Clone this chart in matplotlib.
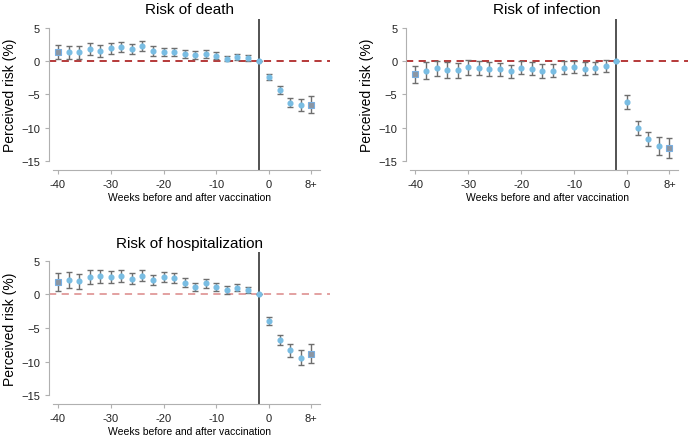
import numpy as np
import matplotlib
matplotlib.use("Agg")
import matplotlib.pyplot as plt

plt.rcParams['font.family'] = ['Liberation Sans', 'DejaVu Sans']

weeks = [-40, -38, -36, -34, -32, -30, -28, -26, -24, -22, -20, -18, -16, -14,
         -12, -10, -8, -6, -4, -2, 0, 2, 4, 6, 8]

death = [1.3, 1.3, 1.3, 1.8, 1.5, 1.9, 2.1, 1.8, 2.2, 1.5, 1.35, 1.35, 1.0, 0.85,
         1.05, 0.8, 0.35, 0.6, 0.45, 0.0, -2.35, -4.3, -6.2, -6.55, -6.55]
death_err = [1.05, 1.0, 1.0, 0.95, 0.85, 0.8, 0.75, 0.75, 0.75, 0.7, 0.65, 0.65, 0.6, 0.6,
             0.55, 0.5, 0.4, 0.4, 0.4, 0.0, 0.45, 0.6, 0.7, 0.9, 1.25]

infection = [-2.0, -1.45, -1.1, -1.4, -1.4, -0.95, -1.0, -1.25, -1.25, -1.55, -1.0, -1.15,
             -1.5, -1.45, -1.0, -0.9, -1.15, -1.0, -0.7, 0.0, -6.1, -10.0, -11.65, -12.7, -13.0]
infection_err = [1.3, 1.25, 1.15, 1.2, 1.15, 1.1, 1.05, 1.05, 1.0, 1.0, 1.0, 1.0, 1.0, 1.0,
                 0.95, 0.95, 0.95, 0.9, 0.9, 0.0, 1.0, 1.0, 1.1, 1.3, 1.55]

hosp = [1.85, 2.2, 1.95, 2.55, 2.7, 2.6, 2.7, 2.35, 2.8, 2.2, 2.55, 2.4, 1.75, 1.1,
        1.65, 1.05, 0.65, 1.0, 0.65, 0.0, -3.95, -6.8, -8.3, -9.4, -8.8]
hosp_err = [1.3, 1.2, 1.15, 1.05, 1.0, 0.95, 0.9, 0.85, 0.8, 0.75, 0.75, 0.75, 0.7, 0.65,
            0.65, 0.6, 0.55, 0.55, 0.5, 0.0, 0.6, 0.75, 0.95, 1.1, 1.45]

xticks = [-40, -30, -20, -10, 0, 8]
xticklabels = ['-40', '-30', '-20', '-10', '0', '8+']

panels = [
    ("Risk of death", death, death_err, [0.071, 0.6105, 0.407, 0.344], '#b02a2a'),
    ("Risk of infection", infection, infection_err, [0.589, 0.6105, 0.408, 0.344], '#b02a2a'),
    ("Risk of hospitalization", hosp, hosp_err, [0.071, 0.0774, 0.407, 0.346], '#e09a9a'),
]

fig = plt.figure(figsize=(6.9, 4.39), dpi=100)

for title, vals, err, pos, ref_col in panels:
    ax = fig.add_axes(pos)
    x = np.array(weeks)
    y = np.array(vals)
    e = np.array(err)
    ax.axhline(0, color=ref_col, ls=(0, (4, 3)), lw=1.3, zorder=1)
    ax.axvline(-2, color='#444444', lw=1.3, zorder=1)
    ax.errorbar(x, y, yerr=e, fmt='none', ecolor='#6e6e6e', elinewidth=1.0,
                capsize=2.5, capthick=1.0, zorder=2)
    # binned end points as squares
    mid = (x > -40) & (x < 8)
    ax.plot(x[mid], y[mid], 'o', color='#79bde3', ms=3.4, zorder=3)
    ends = ~mid
    ax.plot(x[ends], y[ends], 's', mfc='#8b96a3', mec='#79aee0', ms=4, mew=0.8, zorder=3)

    ax.set_xlim(-41.7, 11.5)
    ax.set_ylim(-16.3, 6.3)
    ax.set_yticks([5, 0, -5, -10, -15])
    ax.set_xticks(xticks)
    ax.set_xticklabels(xticklabels)
    ax.spines['top'].set_visible(False)
    ax.spines['right'].set_visible(False)
    ax.spines['left'].set_bounds(-15, 5)
    ax.spines['bottom'].set_bounds(-41, 9.6)
    for s in ['left', 'bottom']:
        ax.spines[s].set_color('#b0b0b0')
        ax.spines[s].set_linewidth(0.8)
    ax.tick_params(colors='#b0b0b0', labelcolor='#222222', labelsize=8,
                   length=3, width=0.8)
    ax.set_title(title, fontsize=11, pad=4)
    ax.set_ylabel("Perceived risk (%)", fontsize=10, labelpad=3)
    ax.set_xlabel("Weeks before and after vaccination", fontsize=7.5, labelpad=2)

fig.savefig("out.png", dpi=100)
